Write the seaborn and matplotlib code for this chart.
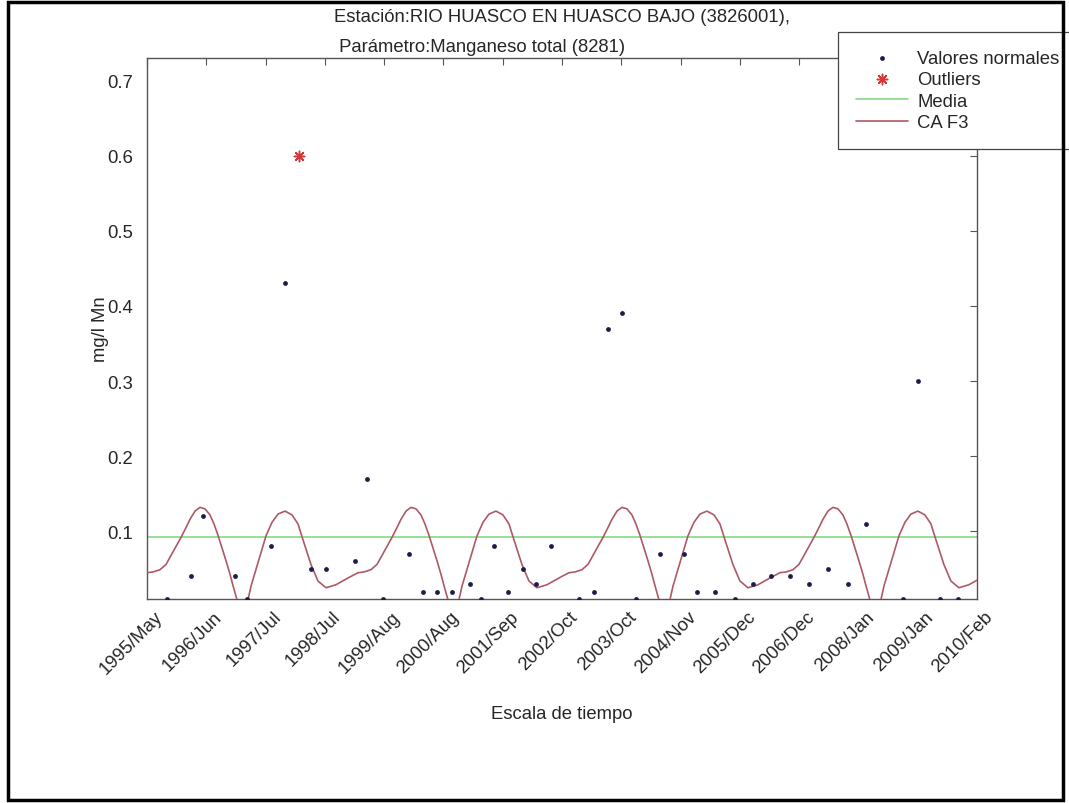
import numpy as np
import pandas as pd
import matplotlib
matplotlib.use("Agg")
import matplotlib.pyplot as plt
import matplotlib.transforms as mtransforms
from matplotlib.patches import Rectangle
import seaborn as sns

# --- Muestras (fecha en años decimales, mg/l Mn) ---
t_normales = [
    1995.77, 1996.19, 1996.40, 1996.97, 1997.18, 1997.61, 1997.86, 1998.32, 1998.58,
    1999.10, 1999.31, 1999.59, 2000.05, 2000.30, 2000.55, 2000.82, 2001.14, 2001.33,
    2001.56, 2001.81, 2002.07, 2002.31, 2002.57, 2003.07, 2003.33, 2003.58, 2003.83,
    2004.08, 2004.50, 2004.93, 2005.16, 2005.48, 2005.83, 2006.15, 2006.47, 2006.81,
    2007.14, 2007.48, 2007.83, 2008.15, 2008.81, 2009.08, 2009.47, 2009.78,
]
v_normales = [
    0.01, 0.04, 0.12, 0.04, 0.01, 0.08, 0.43, 0.05, 0.05,
    0.06, 0.17, 0.01, 0.07, 0.02, 0.02, 0.02, 0.03, 0.01,
    0.08, 0.02, 0.05, 0.03, 0.08, 0.01, 0.02, 0.37, 0.39,
    0.01, 0.07, 0.07, 0.02, 0.02, 0.01, 0.03, 0.04, 0.04,
    0.03, 0.05, 0.03, 0.11, 0.01, 0.30, 0.01, 0.01,
]
t_outliers = [1998.11]
v_outliers = [0.60]

media = 0.093

# --- Curva CA F3 ---
curva_t = [
    1995.411, 1995.517, 1995.641, 1995.748, 1995.836, 1995.925, 1996.014, 1996.102, 1996.173, 1996.262,
    1996.350, 1996.439, 1996.527, 1996.598, 1996.669, 1996.740, 1996.811, 1996.882, 1996.935, 1997.006,
    1997.094, 1997.201, 1997.254, 1997.378, 1997.520, 1997.626, 1997.732, 1997.856, 1997.980, 1998.087,
    1998.175, 1998.317, 1998.441, 1998.583, 1998.760, 1998.973, 1999.150, 1999.256, 1999.380, 1999.487,
    1999.575, 1999.664, 1999.753, 1999.841, 1999.912, 2000.001,
    2000.089, 2000.178, 2000.266, 2000.337, 2000.408, 2000.479, 2000.550, 2000.621, 2000.674, 2000.745,
    2000.833, 2000.940, 2000.993, 2001.117, 2001.259, 2001.365, 2001.471, 2001.595, 2001.719, 2001.826,
    2001.914, 2002.056, 2002.180, 2002.322, 2002.499, 2002.712, 2002.889, 2002.995, 2003.119, 2003.226,
    2003.314, 2003.403, 2003.492, 2003.580, 2003.651, 2003.740,
    2003.828, 2003.917, 2004.005, 2004.076, 2004.147, 2004.218, 2004.289, 2004.360, 2004.413, 2004.484,
    2004.572, 2004.679, 2004.732, 2004.856, 2004.998, 2005.104, 2005.210, 2005.334, 2005.458, 2005.565,
    2005.653, 2005.795, 2005.919, 2006.061, 2006.238, 2006.451, 2006.628, 2006.734, 2006.858, 2006.965,
    2007.053, 2007.142, 2007.231, 2007.319, 2007.390, 2007.479,
    2007.567, 2007.656, 2007.744, 2007.815, 2007.886, 2007.957, 2008.028, 2008.099, 2008.152, 2008.223,
    2008.311, 2008.418, 2008.471, 2008.595, 2008.737, 2008.843, 2008.949, 2009.073, 2009.197, 2009.304,
    2009.392, 2009.534, 2009.658, 2009.800, 2009.977, 2010.120,
]
curva_v = [
    0.045, 0.046, 0.049, 0.056, 0.068, 0.080, 0.092, 0.105, 0.116, 0.127,
    0.132, 0.130, 0.122, 0.110, 0.095, 0.078, 0.061, 0.043, 0.028, 0.009,
    -0.004, 0.009, 0.027, 0.058, 0.094, 0.112, 0.123, 0.127, 0.122, 0.110,
    0.089, 0.056, 0.034, 0.025, 0.029, 0.038, 0.045, 0.046, 0.049, 0.056,
    0.068, 0.080, 0.092, 0.105, 0.116, 0.127,
    0.132, 0.130, 0.122, 0.110, 0.095, 0.078, 0.061, 0.043, 0.028, 0.009,
    -0.004, 0.009, 0.027, 0.058, 0.094, 0.112, 0.123, 0.127, 0.122, 0.110,
    0.089, 0.056, 0.034, 0.025, 0.029, 0.038, 0.045, 0.046, 0.049, 0.056,
    0.068, 0.080, 0.092, 0.105, 0.116, 0.127,
    0.132, 0.130, 0.122, 0.110, 0.095, 0.078, 0.061, 0.043, 0.028, 0.009,
    -0.004, 0.009, 0.027, 0.058, 0.094, 0.112, 0.123, 0.127, 0.122, 0.110,
    0.089, 0.056, 0.034, 0.025, 0.029, 0.038, 0.045, 0.046, 0.049, 0.056,
    0.068, 0.080, 0.092, 0.105, 0.116, 0.127,
    0.132, 0.130, 0.122, 0.110, 0.095, 0.078, 0.061, 0.043, 0.028, 0.009,
    -0.004, 0.009, 0.027, 0.058, 0.094, 0.112, 0.123, 0.127, 0.122, 0.110,
    0.089, 0.056, 0.034, 0.025, 0.029, 0.035,
]

# --- Eje temporal ---
t_inicio, t_fin = 1995.411, 2010.120
etiquetas_x = [
    "1995/May", "1996/Jun", "1997/Jul", "1998/Jul", "1999/Aug", "2000/Aug",
    "2001/Sep", "2002/Oct", "2003/Oct", "2004/Nov", "2005/Dec", "2006/Dec",
    "2008/Jan", "2009/Jan", "2010/Feb",
]
ticks_y = [0.1, 0.2, 0.3, 0.4, 0.5, 0.6, 0.7]

titulo = "Estación:RIO HUASCO EN HUASCO BAJO (3826001),\n Parámetro:Manganeso total (8281)"

sns.set_theme(style="white")
plt.rcParams["font.family"] = ["Liberation Sans", "DejaVu Sans"]

FS = 13.3
TXT = "#262626"

fig = plt.figure(figsize=(10.69, 8.04), dpi=100)
ax = fig.add_axes([0.1375, 0.2537, 0.7764, 0.6729])

df_norm = pd.DataFrame({"t": t_normales, "v": v_normales})
df_out = pd.DataFrame({"t": t_outliers, "v": v_outliers})
df_curva = pd.DataFrame({"t": curva_t, "v": curva_v})

sns.scatterplot(data=df_norm, x="t", y="v", ax=ax, color="#1c1c4a", s=12,
                linewidth=0, label="Valores normales", zorder=4)
sns.scatterplot(data=df_out, x="t", y="v", ax=ax, color="#d03a3a", s=55,
                marker=(8, 2, 0), linewidth=1.1, edgecolor="#d03a3a",
                label="Outliers", zorder=5)
ax.axhline(media, color="#8fdc8f", lw=1.3, label="Media", zorder=2)
sns.lineplot(data=df_curva, x="t", y="v", ax=ax, color="#ad5a65", lw=1.2,
             sort=False, estimator=None, label="CA F3", zorder=3)

ax.set_xlim(t_inicio, t_fin)
ax.set_ylim(0.01, 0.73)
ax.set_xticks(np.linspace(t_inicio, t_fin, len(etiquetas_x)))
ax.set_xticklabels(etiquetas_x, rotation=45, ha="right", va="top",
                   rotation_mode="anchor")
ax.set_yticks(ticks_y)
ax.set_yticklabels([f"{v:.1f}" for v in ticks_y])
ax.tick_params(axis="both", direction="in", length=5, width=0.8,
               top=True, right=True, labelsize=FS, colors="#555555",
               labelcolor=TXT)
ax.tick_params(axis="y", pad=10)
ax.tick_params(axis="x", pad=5)
for s in ax.spines.values():
    s.set_color("#555555")
    s.set_linewidth(1.0)

# desplaza las etiquetas giradas un poco a la derecha
desplaza = mtransforms.ScaledTranslation(7 / 100, -2 / 100, fig.dpi_scale_trans)
for lbl in ax.xaxis.get_majorticklabels():
    lbl.set_transform(lbl.get_transform() + desplaza)

ax.set_xlabel("Escala de tiempo", fontsize=FS, color=TXT, labelpad=20)
ax.set_ylabel("mg/l Mn", fontsize=FS, color=TXT, labelpad=-1)
ax.set_title(titulo, fontsize=FS, color=TXT, multialignment="left",
             linespacing=2.0, pad=5)

leg = ax.legend(loc="upper left", bbox_to_anchor=(838 / 1069, 771 / 804),
                bbox_transform=fig.transFigure, fontsize=FS, frameon=True,
                fancybox=False, edgecolor="#444444", framealpha=1,
                handlelength=2.85, handletextpad=0.5, labelspacing=0.25,
                borderpad=0.95, borderaxespad=0)
leg.get_frame().set_linewidth(0.9)
for txt in leg.get_texts():
    txt.set_color(TXT)

# marco exterior de la figura
fig.patches.append(Rectangle((8 / 1069, 3 / 804), 1055 / 1069, 798 / 804,
                             transform=fig.transFigure, fill=False,
                             edgecolor="black", lw=2.5))

fig.savefig("out.png", dpi=100, facecolor="white")
